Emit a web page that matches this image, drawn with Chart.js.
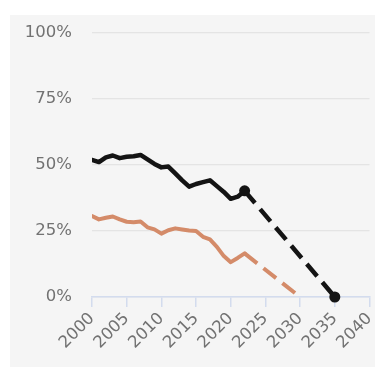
<!DOCTYPE html>
<html>
<head>
<meta charset="utf-8">
<script src="https://cdn.jsdelivr.net/npm/chart.js@4.4.1/dist/chart.umd.min.js"></script>
<style>
  html, body { margin: 0; padding: 0; background: #ffffff; }
  #panel { position: absolute; left: 10px; top: 15px; width: 365px; height: 352px; background: #f5f5f5; }
  canvas { display: block; }
</style>
</head>
<body>
<div id="panel"><canvas id="chart" width="365" height="352"></canvas></div>
<script>
// Observed years
const years = [2000, 2001, 2002, 2003, 2004, 2005, 2006, 2007, 2008, 2009, 2010, 2011,
               2012, 2013, 2014, 2015, 2016, 2017, 2018, 2019, 2020, 2021, 2022];

// Observed shares (%)
const blackShare  = [51.9, 51.1, 52.9, 53.6, 52.6, 53.1, 53.3, 53.8, 52.1, 50.4, 49.1, 49.4,
                     46.8, 44.2, 41.8, 42.8, 43.5, 44.2, 42.0, 39.8, 37.2, 38.0, 40.2];
const orangeShare = [30.7, 29.4, 30.0, 30.5, 29.4, 28.5, 28.3, 28.6, 26.4, 25.6, 24.0, 25.3,
                     26.0, 25.6, 25.2, 25.0, 22.8, 21.8, 19.0, 15.5, 13.2, 14.8, 16.5];

// Projected paths to zero
const blackProjYears  = [2022, 2035];
const blackProjShare  = [40.2, 0];
const orangeProjYears = [2022, 2030];
const orangeProjShare = [16.5, 0];

// Axis ticks
const xTicks = [2000, 2005, 2010, 2015, 2020, 2025, 2030, 2035, 2040];
const yTicks = [0, 25, 50, 75, 100];

const pts = (xs, ys) => xs.map((x, i) => ({ x: x, y: ys[i] }));

const BLACK = '#141414';
const ORANGE = '#d48b69';
const TICK_FONT = { family: "'DejaVu Sans', sans-serif", size: 16.5 };
const TICK_COLOR = '#727272';

new Chart(document.getElementById('chart'), {
  type: 'line',
  data: {
    datasets: [
      {
        data: pts(orangeProjYears, orangeProjShare),
        borderColor: ORANGE, borderWidth: 4, borderDash: [16, 8],
        borderCapStyle: 'butt', pointRadius: 0, tension: 0
      },
      {
        data: pts(years, orangeShare),
        borderColor: ORANGE, borderWidth: 4, borderCapStyle: 'round',
        borderJoinStyle: 'round', pointRadius: 0, tension: 0
      },
      {
        data: pts(blackProjYears, blackProjShare),
        borderColor: BLACK, borderWidth: 4.5, borderDash: [16, 8],
        borderCapStyle: 'butt', pointRadius: 5.5, pointBorderWidth: 0,
        pointBackgroundColor: BLACK, tension: 0, clip: false
      },
      {
        data: pts(years, blackShare),
        borderColor: BLACK, borderWidth: 4.5, borderCapStyle: 'round',
        borderJoinStyle: 'round', pointRadius: 0, tension: 0
      }
    ]
  },
  options: {
    responsive: false,
    animation: false,
    devicePixelRatio: 1,
    layout: { padding: { top: 18, right: 4, left: 0, bottom: 0 } },
    plugins: { legend: { display: false }, tooltip: { enabled: false } },
    scales: {
      x: {
        type: 'linear',
        min: xTicks[0],
        max: xTicks[xTicks.length - 1],
        afterBuildTicks: s => { s.ticks = xTicks.map(v => ({ value: v })); },
        afterFit: s => { s.height = 70; s.paddingRight = 0; s.paddingLeft = 0; },
        grid: { drawOnChartArea: false, drawTicks: true, tickLength: 10, color: '#d3dcee', lineWidth: 1.5 },
        border: { display: true, color: '#d3dcee', width: 1.5 },
        ticks: {
          minRotation: 45, maxRotation: 45, padding: 2,
          color: TICK_COLOR, font: TICK_FONT,
          callback: v => String(v)
        }
      },
      y: {
        min: yTicks[0],
        max: yTicks[yTicks.length - 1],
        afterBuildTicks: s => { s.ticks = yTicks.map(v => ({ value: v })); },
        afterFit: s => { s.width = 82; s.paddingTop = 0; s.paddingBottom = 0; },
        grid: { drawTicks: false, color: '#e4e4e4', lineWidth: 1.2 },
        border: { display: false },
        ticks: {
          padding: 20, color: TICK_COLOR, font: TICK_FONT,
          callback: v => v + '%'
        }
      }
    }
  }
});
</script>
</body>
</html>
